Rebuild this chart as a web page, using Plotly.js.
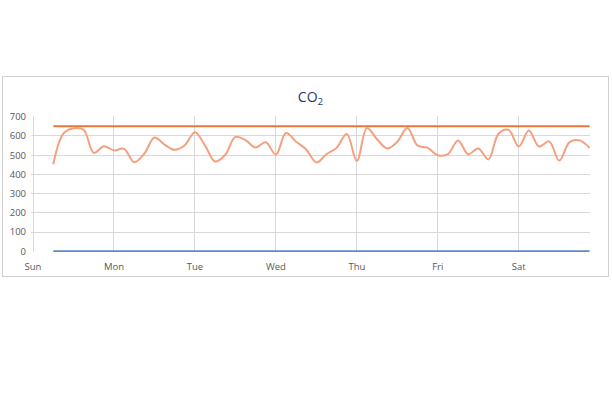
<!DOCTYPE html>
<html>
<head>
<meta charset="utf-8">
<script src="https://cdn.plot.ly/plotly-3.0.1.min.js"></script>
<style>
  html, body { margin: 0; padding: 0; background: #ffffff; width: 612px; height: 396px; overflow: hidden; }
  #box { position: absolute; left: 2px; top: 76px; width: 607px; height: 201px; border: 1px solid #D0D0D0; box-sizing: border-box; }
  #chart { width: 605px; height: 199px; }
</style>
</head>
<body>
<div id="box"><div id="chart"></div></div>
<script>
// Day tick labels (day index 0 = Sun)
const dayLabels = ["Sun", "Mon", "Tue", "Wed", "Thu", "Fri", "Sat"];
const dayTicks = [0, 1, 2, 3, 4, 5, 6];
const yTicks = [0, 100, 200, 300, 400, 500, 600, 700];

// CO2 readings, every 3 hours starting Sunday 06:00
const startHour = 6;
const stepHours = 3;
const co2 = [
  453, 612, 640, 632, 512, 547, 525, 533, 463, 508,
  592, 555, 528, 552, 620, 550, 467, 502, 595, 578,
  540, 567, 503, 615, 570, 530, 462, 505, 538, 610,
  470, 642, 583, 535, 570, 642, 550, 538, 500, 505,
  577, 505, 535, 478, 612, 632, 545, 628, 545, 572,
  472, 567, 577, 538
];
const limitValue = 650;   // threshold line
const baseValue = 0;      // baseline series

const days = co2.map((_, i) => (startHour + i * stepHours) / 24);
const limit = co2.map(() => limitValue);
const base = co2.map(() => baseValue);

const traces = [
  { x: days, y: base, type: "scatter", mode: "lines",
    line: { color: "#5B8BC9", width: 2 }, hoverinfo: "skip" },
  { x: days, y: limit, type: "scatter", mode: "lines",
    line: { color: "#E8773A", width: 2 }, hoverinfo: "skip" },
  { x: days, y: co2, type: "scatter", mode: "lines",
    line: { color: "#F4A07F", width: 2, shape: "spline", smoothing: 1 }, hoverinfo: "skip" }
];

const layout = {
  width: 605, height: 199,
  margin: { l: 28, r: 18, t: 39, b: 24, pad: 0 },
  paper_bgcolor: "#ffffff", plot_bgcolor: "#ffffff",
  showlegend: false,
  font: { family: "Open Sans, Noto Sans, sans-serif", color: "#595959", size: 9 },
  title: {
    text: "CO<sub>2</sub>",
    font: { family: "Open Sans, Noto Sans, sans-serif", size: 14, color: "#1F3864" },
    x: 0.5, xanchor: "center", xref: "paper",
    y: 0.90, yanchor: "middle", yref: "container"
  },
  xaxis: {
    range: [-0.025, 6.88],
    tickmode: "array", tickvals: dayTicks, ticktext: dayLabels,
    showgrid: true, gridcolor: "#D9D9D9", gridwidth: 1,
    zeroline: false, showline: false, ticks: "",
    tickfont: { size: 9.5, color: "#595959" },
    ticklabelstandoff: 7,
    fixedrange: true
  },
  yaxis: {
    range: [-4, 704],
    tickmode: "array", tickvals: yTicks,
    showgrid: true, gridcolor: "#D9D9D9", gridwidth: 1,
    zeroline: false, showline: false, ticks: "",
    tickfont: { size: 9.5, color: "#595959" },
    ticklabelstandoff: 4,
    fixedrange: true
  }
};

Plotly.newPlot("chart", traces, layout, { staticPlot: true, displayModeBar: false });
</script>
</body>
</html>
